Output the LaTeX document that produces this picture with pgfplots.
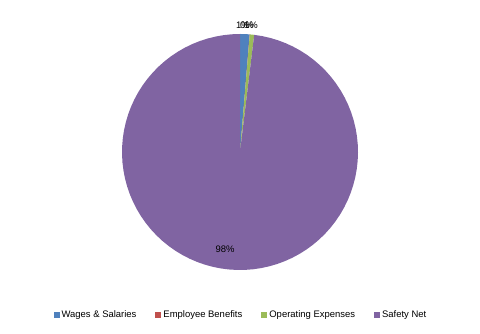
\documentclass[border=0pt]{standalone}
\usepackage{fontspec}
\setmainfont{Liberation Sans}
\usepackage{pgfplots}
\pgfplotsset{compat=1.18}
\definecolor{cW}{HTML}{4F81BD}
\definecolor{cE}{HTML}{C0504D}
\definecolor{cO}{HTML}{9BBB59}
\definecolor{cS}{HTML}{8064A2}
% slice: start percent, end percent, colour
\newcommand{\slice}[3]{%
  \pgfmathsetmacro{\angA}{90-3.6*#2}%
  \pgfmathsetmacro{\angB}{90-3.6*#1}%
  \addplot[fill=#3, draw=none, domain=\angA:\angB, samples=90]
    ({240+118*cos(x)},{181+118*sin(x)}) -- (axis cs:240,181) -- cycle;
}
\begin{document}
\begin{tikzpicture}
\begin{axis}[
  width=480bp, height=333bp, scale only axis,
  xmin=0, xmax=480, ymin=0, ymax=333,
  hide axis, clip=false,
  legend columns=4,
  legend style={at={(0.502,0.054)}, anchor=center, draw=none, fill=none,
    font=\fontsize{9.5}{10}\selectfont, column sep=0bp,
    nodes={inner xsep=2bp},
    /tikz/every even column/.append style={column sep=17bp}},
  legend image code/.code={\fill[#1] (0bp,-3bp) rectangle (6bp,3bp);},
]
% values (percent): Wages & Salaries 1.3, Employee Benefits 0.02, Operating Expenses 0.6, Safety Net 98.08
\slice{0}{1.3}{cW}
\addlegendentry{Wages \& Salaries}
\slice{1.3}{1.32}{cE}
\addlegendentry{Employee Benefits}
\slice{1.32}{1.92}{cO}
\addlegendentry{Operating Expenses}
\slice{1.92}{100}{cS}
\addlegendentry{Safety Net}
\node[font=\fontsize{9.5}{10}\selectfont] at (axis cs:243,308) {1\%};
\node[font=\fontsize{9.5}{10}\selectfont] at (axis cs:247,308) {0\%};
\node[font=\fontsize{9.5}{10}\selectfont] at (axis cs:251,308) {1\%};
\node[font=\fontsize{9.5}{10}\selectfont] at (axis cs:225,84) {98\%};
\path[use as bounding box] (rel axis cs:0,0) rectangle (rel axis cs:1,1);
\end{axis}
\end{tikzpicture}
\end{document}
